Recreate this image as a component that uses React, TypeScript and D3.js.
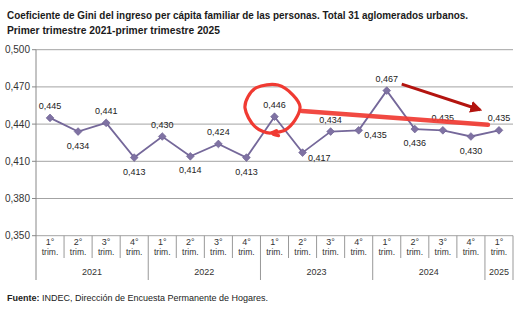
import React from "react";
import * as d3 from "d3";

const quarterLabels = ["1°","2°","3°","4°","1°","2°","3°","4°","1°","2°","3°","4°","1°","2°","3°","4°","1°"];
const years = ["2021", "2022", "2023", "2024", "2025"];
const yearSpans = [4, 4, 4, 4, 1];
const gini = [0.445, 0.434, 0.441, 0.413, 0.430, 0.414, 0.424, 0.413, 0.446, 0.417, 0.434, 0.435, 0.467, 0.436, 0.435, 0.430, 0.435];
const yTicks = [0.35, 0.38, 0.41, 0.44, 0.47, 0.5];

const titleLines = [
  "Coeficiente de Gini del ingreso per cápita familiar de las personas. Total 31 aglomerados urbanos.",
  "Primer trimestre 2021-primer trimestre 2025",
];

// label placement (style)
const labelPlacement = ["a","b","a","b","a","b","a","b","a","r","a","r","a","b","a","b","a"];

const W = 524, H = 322;
const left = 36, right = 513, top = 49.7, bottom = 235.7;

export default function App() {
  const x = d3.scaleBand<number>().domain(d3.range(gini.length)).range([left, right]).padding(0);
  const y = d3.scaleLinear().domain([0.35, 0.5]).range([bottom, top]);
  const cx = (i: number) => (x(i) as number) + x.bandwidth() / 2;
  const fmt = (v: number) => d3.format(".3f")(v).replace(".", ",");
  const line = d3.line<number>().x((_, i) => cx(i)).y((d) => y(d));

  // year boundaries
  const yearBounds: number[] = [];
  let acc = 0;
  yearSpans.forEach((s) => { yearBounds.push(acc); acc += s; });

  const textFont = "'Liberation Sans', Arial, Helvetica, sans-serif";

  // annotations anchored to data points
  const p9 = [cx(8), y(gini[8])];
  const p13 = [cx(12), y(gini[12])];
  const p17 = [cx(16), y(gini[16])];
  const circleOffsets: [number, number][] = [
    [2, 14], [-4.5, 16.4], [-19.5, 10], [-29.5, -8.6], [-26.5, -20], [-18, -29], [3.5, -31.6],
    [18.5, -21.6], [25.5, -10], [20.5, 3.4], [10.5, 13.4], [-2, 17], [4, 19],
  ];
  const circlePath = d3.line().curve(d3.curveCatmullRom)(
    circleOffsets.map(([dx, dy]) => [p9[0] + dx, p9[1] + dy] as [number, number])
  ) as string;

  return (
    <svg width={W} height={H} style={{ position: "absolute", left: 0, top: 0, background: "#fff" }}>
      <defs>
        <marker id="ah" viewBox="0 0 10 10" refX="8" refY="5" markerWidth="4" markerHeight="4" orient="auto">
          <path d="M0,0 L10,5 L0,10 z" fill="#b3140f" />
        </marker>
      </defs>
      <rect width={W} height={H} fill="#fff" />
      {/* Title */}
      {titleLines.map((t, i) => (
        <text key={i} x={7} y={19 + i * 14.5} fontFamily="'Liberation Sans Narrow', 'Arial Narrow', sans-serif"
          fontWeight="bold" fontSize={11} fill="#1a1a1a"
          textLength={i === 0 ? 461 : 213} lengthAdjust="spacingAndGlyphs">{t}</text>
      ))}

      {/* gridlines & y labels */}
      {yTicks.map((t) => (
        <g key={t}>
          <line x1={left} x2={right} y1={y(t)} y2={y(t)} stroke="#a3a3a3" strokeWidth={1} />
          <line x1={left - 4} x2={left} y1={y(t)} y2={y(t)} stroke="#888" strokeWidth={1} />
          <text x={30} y={y(t) + 3.5} textAnchor="end" fontFamily={textFont} fontSize={10} fill="#333">{fmt(t)}</text>
        </g>
      ))}
      {/* left axis */}
      <line x1={left} x2={left} y1={top} y2={280} stroke="#888" strokeWidth={1} />
      <line x1={right} x2={right} y1={bottom} y2={280} stroke="#999" strokeWidth={1} />
      {/* x axis separators */}
      {gini.map((_, i) => i > 0 && (
        <line key={i} x1={x(i) as number} x2={x(i) as number} y1={bottom} y2={yearBounds.includes(i) ? 280 : 258}
          stroke="#999" strokeWidth={1} />
      ))}
      {quarterLabels.map((q, i) => (
        <g key={i}>
          <text x={cx(i)} y={245} textAnchor="middle" fontFamily={textFont} fontSize={9} fill="#333">{q}</text>
          <text x={cx(i)} y={254.5} textAnchor="middle" fontFamily={textFont} fontSize={8.5} fill="#333">trim.</text>
        </g>
      ))}
      {years.map((yr, j) => {
        const s = yearBounds[j];
        const e = s + yearSpans[j] - 1;
        const mid = ((x(s) as number) + (x(e) as number) + x.bandwidth()) / 2;
        return <text key={yr} x={mid} y={275} textAnchor="middle" fontFamily={textFont} fontSize={9} fill="#333">{yr}</text>;
      })}

      {/* series */}
      <path d={line(gini) as string} fill="none" stroke="#75689a" strokeWidth={1.8} />
      {gini.map((v, i) => (
        <path key={i} d={d3.symbol(d3.symbolSquare, 30)() as string}
          transform={`translate(${cx(i)},${y(v)}) rotate(45)`} fill="#7f72a3" stroke="#6a5d8e" strokeWidth={0.6} />
      ))}
      {gini.map((v, i) => {
        const pl = labelPlacement[i];
        const px = cx(i), py = y(v);
        if (pl === "a") return <text key={i} x={px} y={py - 9} textAnchor="middle" fontFamily={textFont} fontSize={9} fill="#222">{fmt(v)}</text>;
        if (pl === "b") return <text key={i} x={px} y={py + 17} textAnchor="middle" fontFamily={textFont} fontSize={9} fill="#222">{fmt(v)}</text>;
        return <text key={i} x={px + 5.5} y={py + 8} textAnchor="start" fontFamily={textFont} fontSize={9} fill="#222">{fmt(v)}</text>;
      })}

      {/* annotations */}
      <path d={circlePath} fill="none" stroke="#f03a32" strokeWidth={3.2} strokeLinecap="round" strokeLinejoin="round" />
      <line x1={p9[0] + 27.5} y1={p9[1] - 5.6} x2={p17[0] - 11} y2={p17[1] - 5.5}
        stroke="#f03a32" strokeWidth={4.5} strokeLinecap="round" opacity={0.92} />
      <line x1={p13[0] + 15} y1={p13[1] - 6.5} x2={p17[0] - 19} y2={p17[1] - 20.5}
        stroke="#b3140f" strokeWidth={3} markerEnd="url(#ah)" />

      {/* footer */}
      <text x={7} y={301} fontFamily={textFont} fontSize={9} fill="#222">
        <tspan fontWeight="bold">Fuente:</tspan> INDEC, Dirección de Encuesta Permanente de Hogares.
      </text>
    </svg>
  );
}
